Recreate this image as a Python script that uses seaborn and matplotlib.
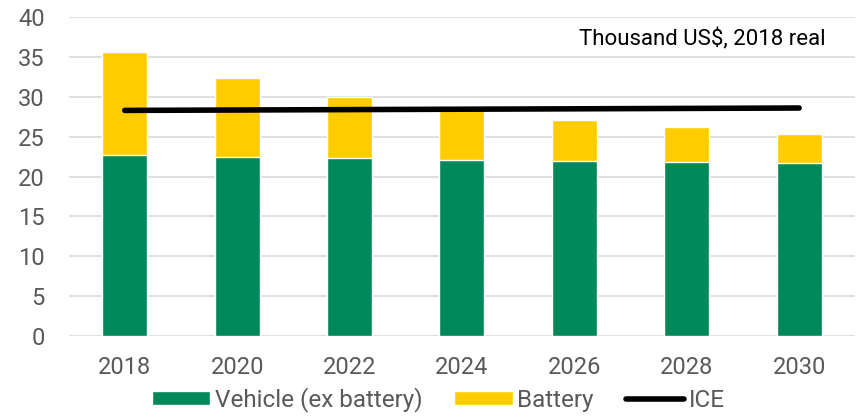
import pandas as pd
import matplotlib.pyplot as plt
import seaborn as sns

years = ['2018', '2020', '2022', '2024', '2026', '2028', '2030']
vehicle = [22.7, 22.45, 22.3, 22.1, 21.95, 21.8, 21.7]
total = [35.6, 32.35, 29.95, 28.3, 27.1, 26.2, 25.3]
ice = [28.3, 28.35, 28.4, 28.45, 28.5, 28.55, 28.6]

green = '#00875A'
yellow = '#FFCC00'
grey_text = '#595959'

sns.set_style('white')
plt.rcParams['font.family'] = ['Roboto', 'DejaVu Sans']

df = pd.DataFrame({'year': years, 'vehicle': vehicle, 'total': total, 'ice': ice})

fig = plt.figure(figsize=(8.57, 4.17), dpi=100)
ax = fig.add_axes([0.08, 0.194, 0.918, 0.765])

# stacked bars: draw total (yellow) first, then vehicle part on top
sns.barplot(data=df, x='year', y='total', color=yellow, width=0.4,
            saturation=1, ax=ax, label='Battery', zorder=2)
sns.barplot(data=df, x='year', y='vehicle', color=green, width=0.4,
            saturation=1, ax=ax, label='Vehicle (ex battery)', zorder=3)
sns.lineplot(x=range(len(years)), y=df['ice'], color='black', linewidth=4,
             solid_capstyle='round', ax=ax, label='ICE', zorder=4)

ax.set_ylim(0, 40)
ax.set_xlim(-0.5, 6.5)
ax.set_yticks(range(0, 41, 5))
ax.yaxis.grid(True, color='#D9D9D9', linewidth=1.2, zorder=0)
ax.set_axisbelow(True)
for s in ax.spines.values():
    s.set_visible(False)
ax.set_xlabel('')
ax.set_ylabel('')
ax.tick_params(axis='both', length=0, labelsize=17, labelcolor=grey_text)
ax.tick_params(axis='y', pad=17)
ax.tick_params(axis='x', pad=14)

ax.text(0.962, 0.93, 'Thousand US$, 2018 real', transform=ax.transAxes,
        ha='right', va='center', fontsize=16, color='black')

h, l = ax.get_legend_handles_labels()
order = [l.index('Vehicle (ex battery)'), l.index('Battery'), l.index('ICE')]
ax.legend([h[i] for i in order], [l[i] for i in order], loc='center',
          bbox_to_anchor=(0.47, -0.2), ncol=3, frameon=False, fontsize=17.5,
          labelcolor=grey_text, handlelength=2.4, handleheight=0.5,
          handletextpad=0.2, columnspacing=1.3, borderpad=0.2)

fig.savefig('out.png', dpi=100)
